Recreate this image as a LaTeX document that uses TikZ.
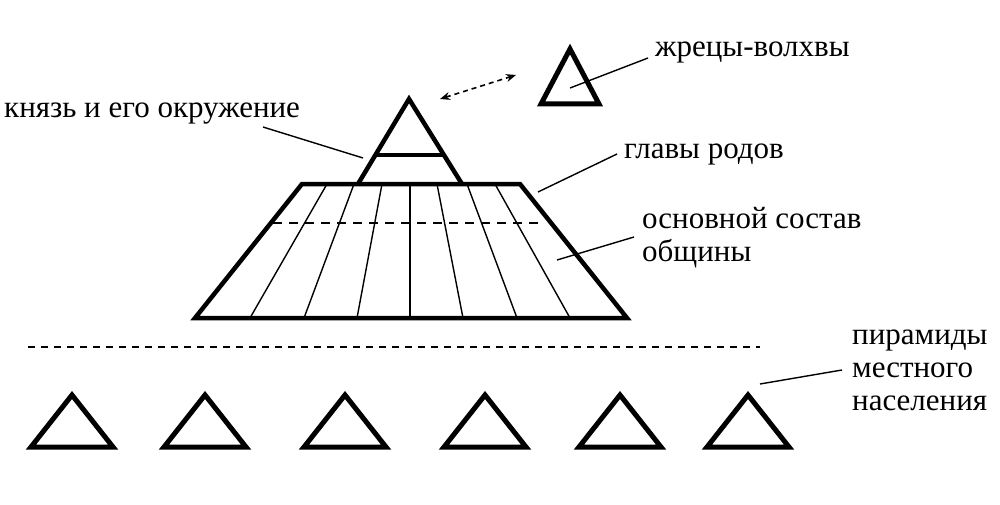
\documentclass[tikz,border=0pt]{standalone}
\usepackage{fontspec}
\setmainfont{Liberation Serif}
\usetikzlibrary{arrows.meta}
\begin{document}
\begin{tikzpicture}[x=1pt,y=-1pt,
  thick line/.style={line width=4.5pt,line join=miter},
  thin line/.style={line width=1.4pt},
  lbl/.style={font=\fontsize{31}{33}\selectfont,inner sep=0pt},
  smalltri/.style={line width=5pt,line join=miter}]
\useasboundingbox (0,0) rectangle (1000,505);
% main trapezoid
\draw[thick line] (302,184) -- (520,184) -- (627,318) -- (195,318) -- cycle;
\foreach \t/\b in {327/250,354/304,382/357,410/410,437/463,467/517,495/570}
  \draw[thin line] (\t,184) -- (\b,318);
\draw[line width=1.8pt,dash pattern=on 9pt off 7pt] (273,223) -- (540,223);
% top triangle with skirt
\draw[thick line] (358,184) -- (409,99) -- (462,184);
\draw[thick line] (375,155) -- (443,155);
% priests triangle
\draw[smalltri] (570,49) -- (599,104) -- (541,104) -- cycle;
\coordinate (a1) at (440,99);
\coordinate (a2) at (516,75);
\draw[line width=1.6pt,dash pattern=on 5pt off 4pt,{Stealth[length=10pt,width=8pt]}-{Stealth[length=10pt,width=8pt]}] (a1) -- (a2);
% dashed separator
\draw[line width=1.5pt,dash pattern=on 7pt off 6pt] (28,347) -- (760,347);
% bottom triangles
\foreach \c in {72,205,345,485,620,748}
  \draw[smalltri] (\c,395) -- (\c+41,447) -- (\c-41,447) -- cycle;
% labels
\node[lbl,anchor=west] (l1) at (655,52) {жрецы-волхвы};
\draw[thin line] (570,88) -- (648,58);
\node[lbl,anchor=west] (l2) at (4,114) {князь и его окружение};
\draw[thin line] (263,127) -- (363,158);
\node[lbl,anchor=west] (l3) at (624,154) {главы родов};
\draw[thin line] (538,192) -- (617,154);
\node[lbl,anchor=north west,align=left] (l4) at (642,207) {основной состав\\общины};
\draw[thin line] (557,260) -- (634,237);
\node[lbl,anchor=north west,align=left] (l5) at (852,330) {пирамиды\\местного\\населения};
\draw[thin line] (760,384) -- (842,370);
\end{tikzpicture}
\end{document}
